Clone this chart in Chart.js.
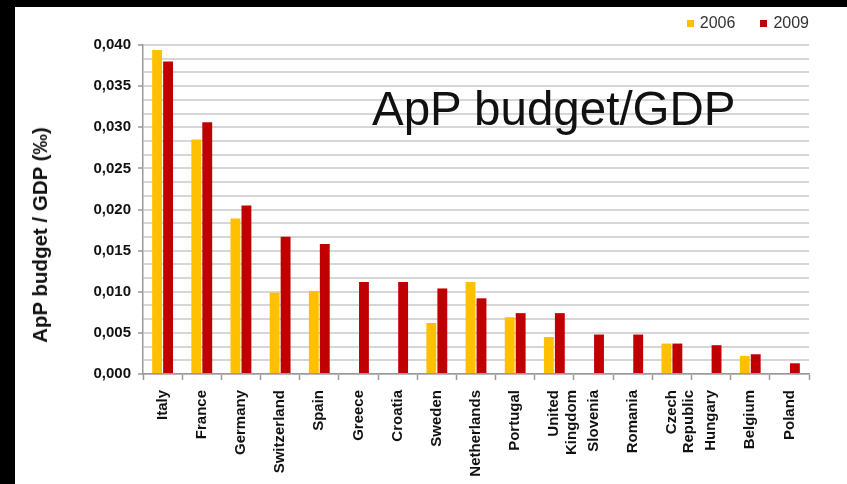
<!DOCTYPE html>
<html>
<head>
<meta charset="utf-8">
<script src="https://cdn.jsdelivr.net/npm/chart.js@4"></script>
<style>
    html, body { margin: 0; padding: 0; background: #000; }
    body { width: 847px; height: 484px; position: relative; overflow: hidden; font-family: "Liberation Sans", Arial, sans-serif; }
    #frame { position: absolute; left: 15px; top: 7px; width: 832px; height: 477px; background: #fff; }
    #chart { position: absolute; left: 0; top: 0; }
    #ytitle {
        position: absolute; left: 25px; top: 228px;
        transform: translate(-50%, -50%) rotate(-90deg);
        white-space: nowrap; font-weight: bold; font-size: 20.5px; color: #111;
    }
    #bigtitle {
        position: absolute; left: 357px; top: 78px;
        font-size: 47.5px; line-height: 1; color: #111; white-space: nowrap;
    }
    #legend { position: absolute; right: 38px; top: 7px; font-size: 16px; color: #333; display: flex; }
    #legend span.item { display: flex; align-items: center; margin-left: 25px; }
    #legend span.box { display: inline-block; width: 7px; height: 7px; margin-right: 6px; }
</style>
</head>
<body>
<div id="frame">
    <canvas id="chart" width="832" height="477"></canvas>
    <div id="ytitle">ApP budget / GDP (‰)</div>
    <div id="bigtitle">ApP budget/GDP</div>
    <div id="legend"></div>
</div>
<script>
const categories = [
    "Italy", "France", "Germany", "Switzerland", "Spain", "Greece", "Croatia",
    "Sweden", "Netherlands", "Portugal", ["United", "Kingdom"], "Slovenia",
    "Romania", ["Czech", "Republic"], "Hungary", "Belgium", "Poland"
];
const seriesNames = ["2006", "2009"];
const values2006 = [0.0394, 0.0285, 0.0189, 0.0099, 0.0101, null, null, 0.0062, 0.0112, 0.0069, 0.0045, null, null, 0.0037, null, 0.0022, null];
const values2009 = [0.0380, 0.0306, 0.0205, 0.0167, 0.0158, 0.0112, 0.0112, 0.0104, 0.0092, 0.0074, 0.0074, 0.0048, 0.0048, 0.0037, 0.0035, 0.0024, 0.0013];
const yMajor = [0, 0.005, 0.010, 0.015, 0.020, 0.025, 0.030, 0.035, 0.040];
const yTickLabels = ["0,000", "0,005", "0,010", "0,015", "0,020", "0,025", "0,030", "0,035", "0,040"];
const colors = ["#FFC000", "#C00000"];

// legend as html
let legend = document.getElementById("legend");
seriesNames.forEach((name, i) => {
    let item = document.createElement("span");
    item.className = "item";
    item.innerHTML = '<span class="box" style="background:' + colors[i] + '"></span>' + name;
    legend.appendChild(item);
});

const font = "'Liberation Sans', Arial, sans-serif";

new Chart(document.getElementById("chart"), {
    type: "bar",
    data: {
        labels: categories,
        datasets: [
            { label: seriesNames[0], data: values2006, backgroundColor: colors[0] },
            { label: seriesNames[1], data: values2009, backgroundColor: colors[1] }
        ]
    },
    options: {
        responsive: false,
        animation: false,
        layout: { padding: { top: 38, right: 38, left: 0, bottom: 0 } },
        datasets: { bar: { categoryPercentage: 0.56, barPercentage: 0.9 } },
        plugins: { legend: { display: false }, tooltip: { enabled: false } },
        scales: {
            x: {
                afterFit: s => { s.height = 110; },
                grid: {
                    offset: true,
                    drawOnChartArea: false,
                    tickLength: 6,
                    tickColor: "#999",
                    tickWidth: 1.5
                },
                border: { color: "#999", width: 1.5 },
                ticks: {
                    minRotation: 90,
                    maxRotation: 90,
                    autoSkip: false,
                    padding: 10,
                    color: "#111",
                    font: { family: font, size: 15, weight: "bold", lineHeight: 1.15 }
                }
            },
            y: {
                min: 0,
                max: 0.04,
                afterFit: s => { s.width = 128; },
                afterBuildTicks: s => {
                    let t = [];
                    for (let i = 0; i < yMajor.length; i++) {
                        t.push({ value: yMajor[i] });
                        if (i < yMajor.length - 1) {
                            let step = (yMajor[i + 1] - yMajor[i]) / 3;
                            t.push({ value: yMajor[i] + step });
                            t.push({ value: yMajor[i] + 2 * step });
                        }
                    }
                    s.ticks = t;
                },
                grid: {
                    color: "#d6d6d6",
                    lineWidth: 2,
                    tickLength: 5,
                    tickColor: ctx => (ctx.index % 3 === 0 ? "#999" : "rgba(0,0,0,0)"),
                    tickWidth: 1.5
                },
                border: { color: "#999", width: 1.5 },
                ticks: {
                    autoSkip: false,
                    padding: 7,
                    color: "#111",
                    font: { family: font, size: 15, weight: "bold" },
                    callback: (v, i) => (i % 3 === 0 ? yTickLabels[i / 3] : "")
                }
            }
        }
    }
});
</script>
</body>
</html>
